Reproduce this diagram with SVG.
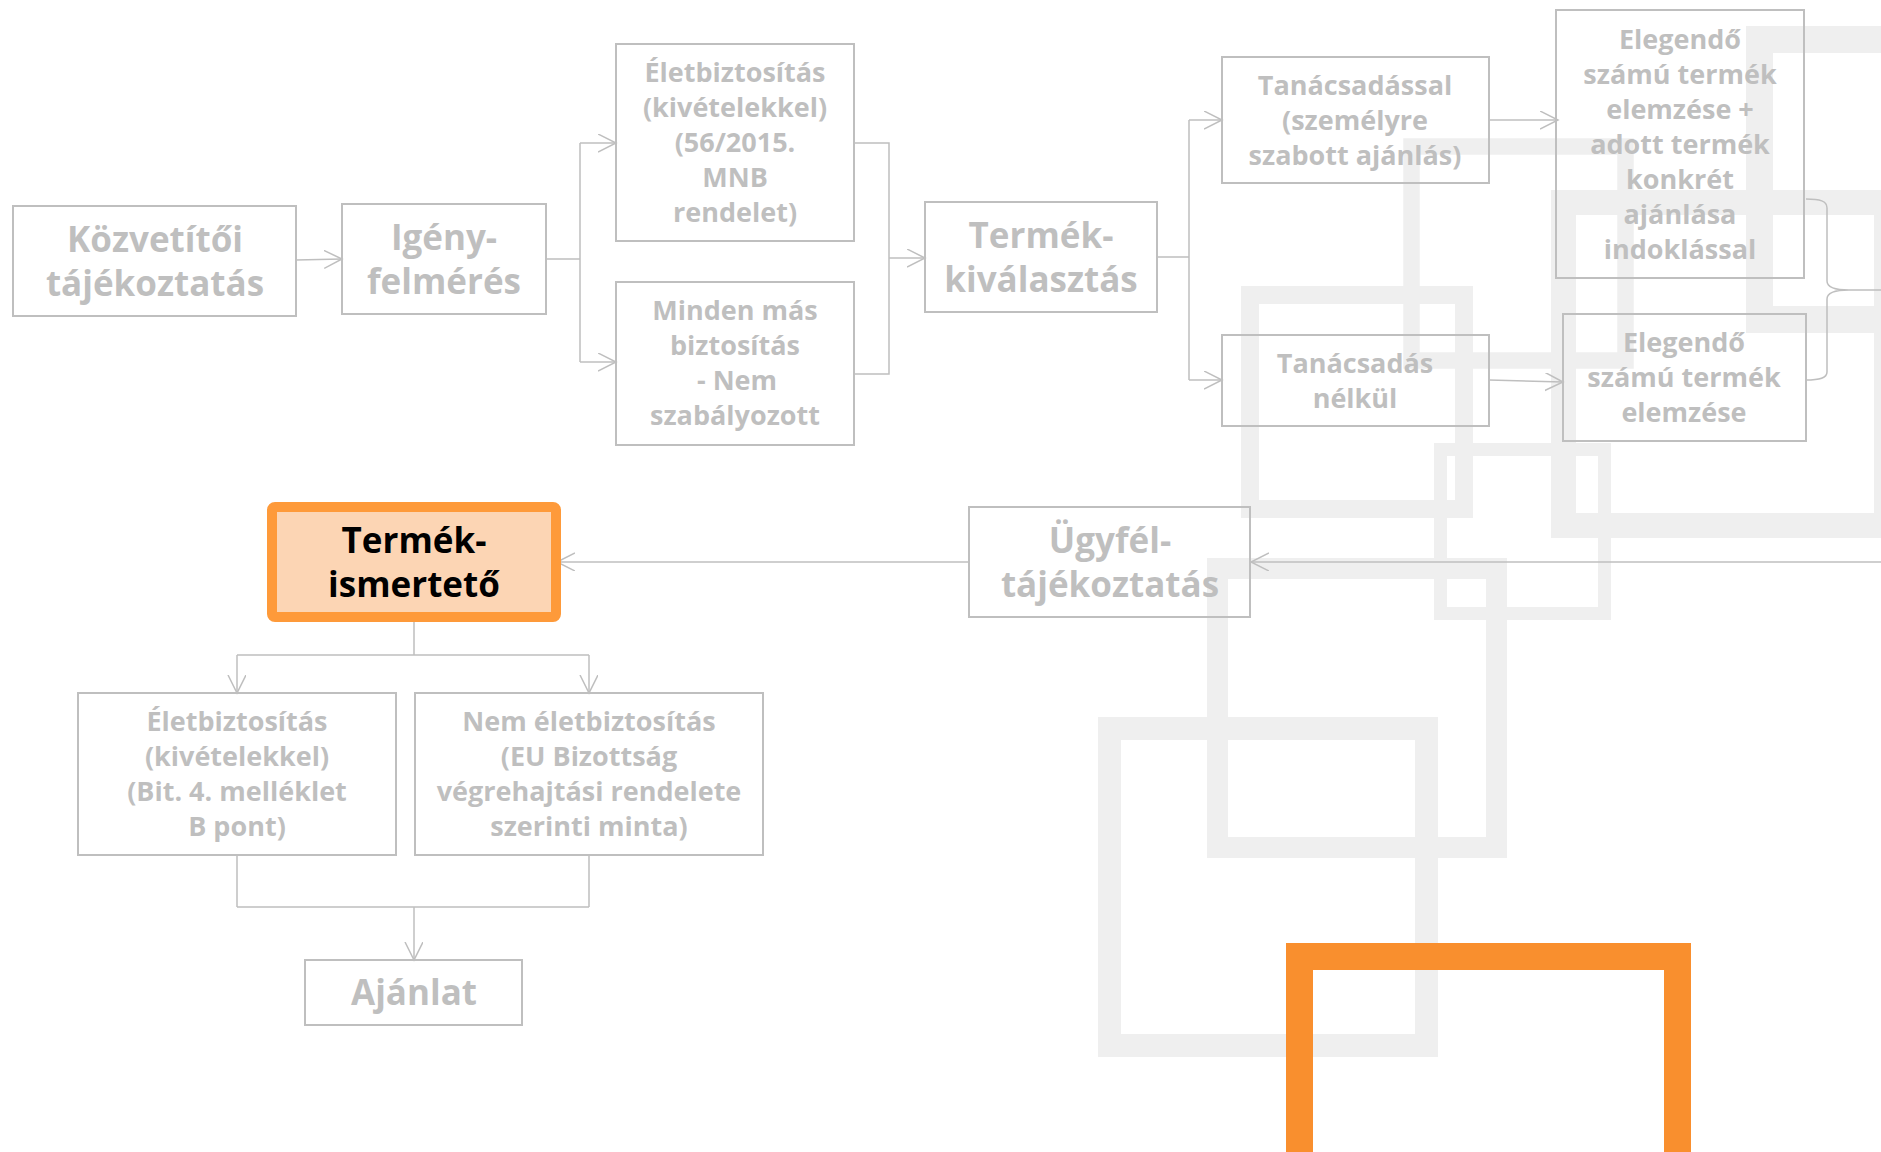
<svg xmlns="http://www.w3.org/2000/svg" width="1881" height="1152" viewBox="0 0 1881 1152">
<defs>
<style>
.deco{fill:none;stroke:#efefef}
.box{fill:none;stroke:#bfbfbf;stroke-width:2}
.t{font-family:"Open Sans","Noto Sans","Liberation Sans",sans-serif;font-weight:700;fill:#bfbfbf;text-anchor:middle}
.big{font-size:35px}
.sm{font-size:27px}
.con{fill:none;stroke:#bfbfbf;stroke-width:1.5}
.arr{marker-end:url(#ah)}
</style>
<marker id="ah" markerUnits="userSpaceOnUse" markerWidth="20" markerHeight="20" refX="18" refY="9" orient="auto">
<path d="M0,0 L18,9 L0,18" fill="none" stroke="#bfbfbf" stroke-width="1.5"/>
</marker>
</defs>
<rect width="1881" height="1152" fill="#ffffff"/>
<g id="decoration">
<rect class="deco" x="1759.5" y="39.5" width="280" height="280" stroke-width="27"/>
<rect class="deco" x="1563.5" y="202.5" width="323" height="323" stroke-width="25"/>
<rect class="deco" x="1411.5" y="146.5" width="214" height="214" stroke-width="16.5"/>
<rect class="deco" x="1250" y="295" width="214" height="214" stroke-width="18"/>
<rect class="deco" x="1440.5" y="449.5" width="164" height="164" stroke-width="13"/>
<rect class="deco" x="1217.5" y="568.5" width="279" height="279" stroke-width="21"/>
<rect class="deco" x="1109.5" y="728.5" width="317" height="317" stroke-width="23"/>
<rect x="1299.5" y="956.5" width="378" height="378" fill="none" stroke="#f98f2e" stroke-width="27"/>
</g>
<g id="connectors">
<path class="con arr" d="M296,260 L342,259"/>
<path class="con" d="M546,259 H580 M580,143 V362"/>
<path class="con arr" d="M580,143 H616"/>
<path class="con arr" d="M580,362 H616"/>
<path class="con" d="M854,143 H889 V374 H854"/>
<path class="con arr" d="M889,258 H925"/>
<path class="con" d="M1157,257 H1189 M1189,120 V380"/>
<path class="con arr" d="M1189,120 H1222"/>
<path class="con arr" d="M1189,380 H1222"/>
<path class="con arr" d="M1489,120 H1558"/>
<path class="con arr" d="M1489,380 L1563,382"/>
<path class="con" d="M1806,199 C1820,199 1827,201 1827,208 V281 C1827,288 1836,290 1849,290 C1836,290 1827,292 1827,299 V372 C1827,378 1820,380 1806,380 M1849,290 H1881"/>
<path class="con arr" d="M1881,562 H1251"/>
<path class="con arr" d="M969,562 H557"/>
<path class="con" d="M414,622 V655 M237,655 H589"/>
<path class="con arr" d="M237,655 V693"/>
<path class="con arr" d="M589,655 V693"/>
<path class="con" d="M237,855 V907 M589,855 V907 M237,907 H589"/>
<path class="con arr" d="M414,907 V960"/>
</g>
<g id="n-kozvetitoi">
<rect class="box" x="13" y="206" width="283" height="110"/>
<text class="t big" x="155" y="252">Közvetítői</text>
<text class="t big" x="155" y="296">tájékoztatás</text>
</g>
<g id="n-igeny">
<rect class="box" x="342" y="204" width="204" height="110"/>
<text class="t big" x="444" y="250">Igény-</text>
<text class="t big" x="444" y="294">felmérés</text>
</g>
<g id="n-elet1">
<rect class="box" x="616" y="44" width="238" height="197"/>
<text class="t sm" x="735" y="82">Életbiztosítás</text>
<text class="t sm" x="735" y="117">(kivételekkel)</text>
<text class="t sm" x="735" y="152">(56/2015.</text>
<text class="t sm" x="735" y="187">MNB</text>
<text class="t sm" x="735" y="222">rendelet)</text>
</g>
<g id="n-minden">
<rect class="box" x="616" y="282" width="238" height="163"/>
<text class="t sm" x="735" y="320">Minden más</text>
<text class="t sm" x="735" y="355">biztosítás</text>
<text class="t sm" x="737" y="390">- Nem</text>
<text class="t sm" x="735" y="425">szabályozott</text>
</g>
<g id="n-termekvalasztas">
<rect class="box" x="925" y="202" width="232" height="110"/>
<text class="t big" x="1041" y="248">Termék-</text>
<text class="t big" x="1041" y="292">kiválasztás</text>
</g>
<g id="n-tanacsadassal">
<rect class="box" x="1222" y="57" width="267" height="126"/>
<text class="t sm" x="1355" y="95">Tanácsadással</text>
<text class="t sm" x="1355" y="130">(személyre</text>
<text class="t sm" x="1355" y="165">szabott ajánlás)</text>
</g>
<g id="n-tanacsadas-nelkul">
<rect class="box" x="1222" y="335" width="267" height="91"/>
<text class="t sm" x="1355" y="373">Tanácsadás</text>
<text class="t sm" x="1355" y="408">nélkül</text>
</g>
<g id="n-elegendo1">
<rect class="box" x="1556" y="10" width="248" height="268"/>
<text class="t sm" x="1680" y="49">Elegendő</text>
<text class="t sm" x="1680" y="84">számú termék</text>
<text class="t sm" x="1680" y="119">elemzése +</text>
<text class="t sm" x="1680" y="154">adott termék</text>
<text class="t sm" x="1680" y="189">konkrét</text>
<text class="t sm" x="1680" y="224">ajánlása</text>
<text class="t sm" x="1680" y="259">indoklással</text>
</g>
<g id="n-elegendo2">
<rect class="box" x="1563" y="314" width="243" height="127"/>
<text class="t sm" x="1684" y="352">Elegendő</text>
<text class="t sm" x="1684" y="387">számú termék</text>
<text class="t sm" x="1684" y="422">elemzése</text>
</g>
<g id="n-ugyfel">
<rect class="box" x="969" y="507" width="281" height="110"/>
<text class="t big" x="1110" y="553">Ügyfél-</text>
<text class="t big" x="1110" y="597">tájékoztatás</text>
</g>
<g id="n-termekismerteto">
<rect x="272" y="507" width="284" height="110" rx="3" fill="#fcd5b4" stroke="#fe9a3a" stroke-width="10"/>
<text class="t big" x="414" y="553" style="fill:#000000">Termék-</text>
<text class="t big" x="414" y="597" style="fill:#000000">ismertető</text>
</g>
<g id="n-elet2">
<rect class="box" x="78" y="693" width="318" height="162"/>
<text class="t sm" x="237" y="731">Életbiztosítás</text>
<text class="t sm" x="237" y="766">(kivételekkel)</text>
<text class="t sm" x="237" y="801">(Bit. 4. melléklet</text>
<text class="t sm" x="237" y="836">B pont)</text>
</g>
<g id="n-nemelet">
<rect class="box" x="415" y="693" width="348" height="162"/>
<text class="t sm" x="589" y="731">Nem életbiztosítás</text>
<text class="t sm" x="589" y="766">(EU Bizottság</text>
<text class="t sm" x="589" y="801">végrehajtási rendelete</text>
<text class="t sm" x="589" y="836">szerinti minta)</text>
</g>
<g id="n-ajanlat">
<rect class="box" x="305" y="960" width="217" height="65"/>
<text class="t big" x="414" y="1005">Ajánlat</text>
</g>
</svg>
